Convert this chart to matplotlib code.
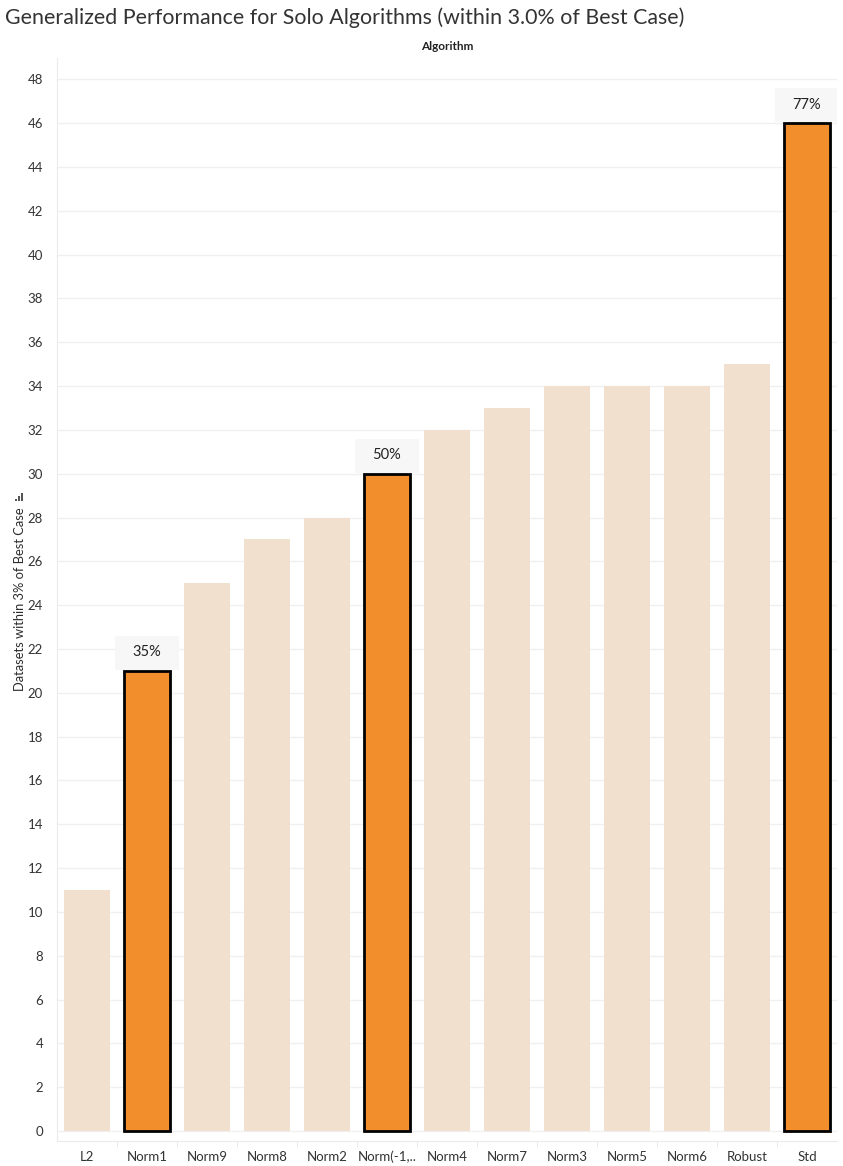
import matplotlib.pyplot as plt
from matplotlib.patches import Rectangle
from matplotlib.ticker import MultipleLocator

algorithms = ['L2', 'Norm1', 'Norm9', 'Norm8', 'Norm2', 'Norm(-1,..', 'Norm4',
              'Norm7', 'Norm3', 'Norm5', 'Norm6', 'Robust', 'Std']
counts = [11, 21, 25, 27, 28, 30, 32, 33, 34, 34, 34, 35, 46]
highlighted = ['Norm1', 'Norm(-1,..', 'Std']
pct_labels = {'Norm1': '35%', 'Norm(-1,..': '50%', 'Std': '77%'}

plt.rcParams['font.family'] = ['Lato', 'DejaVu Sans']

W, H = 843, 1166
fig = plt.figure(figsize=(W / 100, H / 100), dpi=100)
ax = fig.add_axes([0.0676, 0.0214, 0.9253, 0.9286])

light = '#F2E0CE'
orange = '#F28E2B'

x = list(range(len(algorithms)))
for i, (name, val) in enumerate(zip(algorithms, counts)):
    if name in highlighted:
        ax.bar(i, val, width=0.77, color=orange, edgecolor='black', linewidth=2, zorder=3)
        # label box sitting on top of the bar
        ax.add_patch(Rectangle((i - 0.535, val + 0.05), 1.07, 1.55,
                               facecolor='#f7f7f7', edgecolor='none', zorder=4))
        ax.text(i, val + 0.05 + 0.8, pct_labels[name], ha='center', va='center',
                fontsize=10.5, color='#222222', zorder=5)
    else:
        ax.bar(i, val, width=0.77, color=light, edgecolor='none', zorder=3)

ax.set_xlim(-0.5, len(algorithms) - 0.5)
ax.set_ylim(-0.46, 48.96)
ax.yaxis.set_major_locator(MultipleLocator(2))
ax.set_xticks(x)
ax.set_xticklabels(algorithms, fontsize=9.5, color='#333333')
ax.set_xticks([i + 0.5 for i in x[:-1]], minor=True)
ax.tick_params(axis='x', which='major', length=0, pad=7)
ax.tick_params(axis='x', which='minor', length=4, color='#e6e6e6')
ax.tick_params(axis='y', length=0, labelsize=9.5, labelcolor='#333333', pad=10)

ax.grid(axis='y', color='#f0f0f0', linewidth=1, zorder=0)
for s in ['top', 'right']:
    ax.spines[s].set_visible(False)
ax.spines['left'].set_color('#ebebeb')
ax.spines['bottom'].set_color('#ebebeb')

ax.set_ylabel('Datasets within 3% of Best Case', fontsize=9.3, color='#2b2b2b')
ax.yaxis.set_label_coords(-0.040, 0.50)

# small sort icon next to the axis title
for dx, h in [(0, 2), (3, 5), (6, 8)]:
    fig.patches.append(Rectangle(((15 + dx) / W, 1 - 501 / H), 2 / W, h / H,
                                 transform=fig.transFigure, facecolor='#555555',
                                 edgecolor='none'))

fig.text(0.53, 0.9597, 'Algorithm', ha='center', va='center', fontsize=8.5,
         color='#222222', fontweight='bold')
fig.text(0.006, 0.985, 'Generalized Performance for Solo Algorithms (within 3.0% of Best Case)',
         ha='left', va='center', fontsize=15.4, color='#333333')

fig.savefig('out.png', dpi=100)
